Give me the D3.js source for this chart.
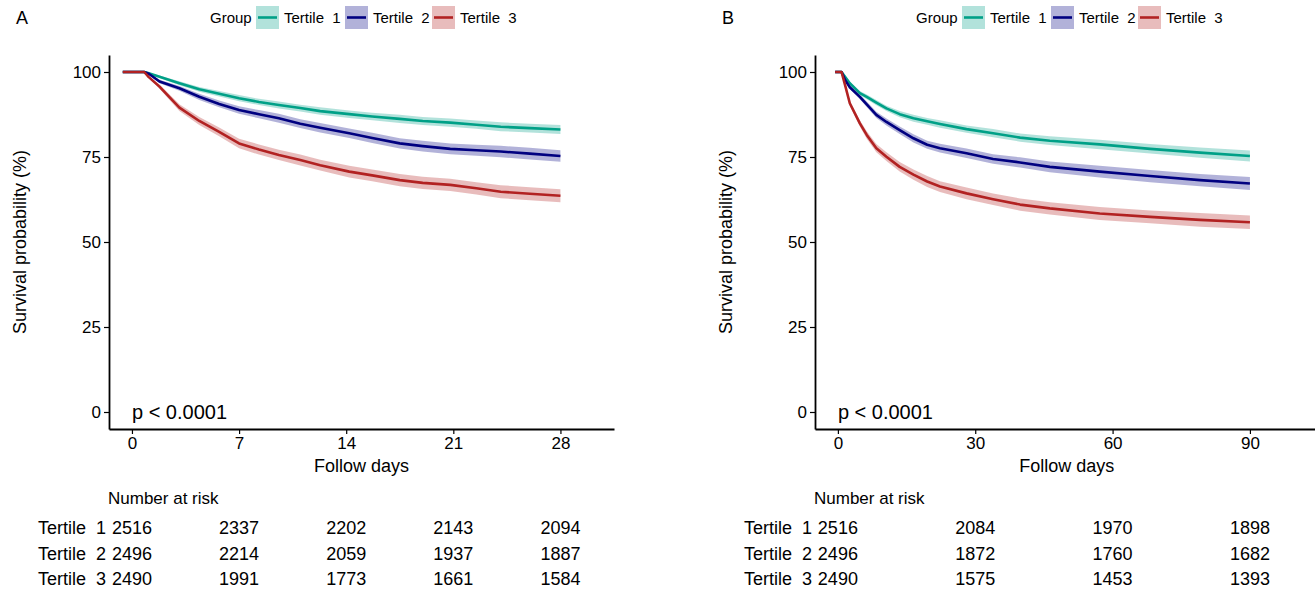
<!DOCTYPE html>
<html>
  <head>
    <meta charset="utf-8">
    <script src="https://d3js.org/d3.v7.min.js"></script>
    <style>
      body { margin: 0; background: #fff; }
      svg text { font-family: "Liberation Sans", Arial, sans-serif; fill: #000; white-space: pre; }
    </style>
  </head>
<body>
<script type="text/javascript">
  "use strict";

  // groups and colours (labels carry the double space of the original)
  var groups = ["Tertile  1", "Tertile  2", "Tertile  3"];
  var colors = ["#00A087", "#000080", "#B22222"];
  var yTicks = [0, 25, 50, 75, 100];

  // Panel A: 28 day survival (%)
  var timeA = [-0.6, 0.8, 1.1, 1.8, 3.1, 4.4, 5.7, 7, 8.3, 9.6, 11, 12.3, 14.2, 15.7, 17.5, 19, 20.8, 22.5, 24.1, 26, 28];
  var survA1 = [100, 100, 99.6, 98.6, 96.7, 94.9, 93.6, 92.3, 91.2, 90.3, 89.4, 88.5, 87.6, 86.9, 86.2, 85.6, 85.1, 84.5, 83.9, 83.5, 83.1];
  var survA2 = [100, 100, 99.5, 97.2, 95.2, 92.7, 90.6, 88.8, 87.6, 86.4, 84.8, 83.6, 82.0, 80.6, 79.0, 78.2, 77.4, 77.0, 76.6, 76.0, 75.3];
  var survA3 = [100, 100, 98.5, 95.7, 89.5, 85.6, 82.4, 79.0, 77.2, 75.6, 74.1, 72.6, 70.7, 69.6, 68.2, 67.4, 66.8, 65.8, 64.8, 64.2, 63.6];
  var ciA1 = [0, 0, 0.2, 0.4, 0.6, 0.7, 0.8, 0.9, 0.9, 1.0, 1.0, 1.1, 1.1, 1.1, 1.2, 1.2, 1.2, 1.2, 1.3, 1.3, 1.3];
  var ciA2 = [0, 0, 0.2, 0.5, 0.7, 0.9, 1.0, 1.1, 1.2, 1.3, 1.3, 1.4, 1.4, 1.5, 1.5, 1.6, 1.6, 1.6, 1.7, 1.7, 1.7];
  var ciA3 = [0, 0, 0.3, 0.6, 1.0, 1.2, 1.3, 1.4, 1.5, 1.5, 1.6, 1.6, 1.7, 1.7, 1.8, 1.8, 1.8, 1.8, 1.9, 1.9, 1.9];
  var xTicksA = [0, 7, 14, 21, 28];
  var riskA = [[2516, 2337, 2202, 2143, 2094],
               [2496, 2214, 2059, 1937, 1887],
               [2490, 1991, 1773, 1661, 1584]];

  // Panel B: 90 day survival (%)
  var timeB = [-0.6, 0.8, 1.6, 2.6, 4.8, 6.3, 8.4, 10.6, 13.5, 16.5, 19.5, 22.3, 28.1, 33.9, 39.8, 46.3, 57.2, 68.2, 79.1, 90];
  var survB1 = [100, 100, 98.5, 96.7, 93.8, 92.7, 91.0, 89.3, 87.6, 86.4, 85.5, 84.7, 83.2, 82.0, 80.7, 79.8, 78.7, 77.4, 76.3, 75.3];
  var survB2 = [100, 100, 97.6, 95.5, 92.7, 90.5, 87.4, 85.3, 82.9, 80.5, 78.6, 77.6, 76.1, 74.4, 73.4, 72.1, 70.7, 69.4, 68.2, 67.2];
  var survB3 = [100, 100, 96.0, 90.8, 84.9, 81.5, 77.6, 75.1, 72.1, 69.8, 67.8, 66.3, 64.3, 62.6, 61.0, 59.9, 58.4, 57.4, 56.5, 55.8];
  var ciB1 = [0, 0, 0.3, 0.4, 0.6, 0.7, 0.8, 0.8, 0.9, 1.0, 1.0, 1.1, 1.1, 1.2, 1.2, 1.3, 1.4, 1.4, 1.5, 1.6];
  var ciB2 = [0, 0, 0.3, 0.5, 0.7, 0.8, 0.9, 1.0, 1.1, 1.2, 1.2, 1.3, 1.4, 1.4, 1.5, 1.6, 1.7, 1.8, 1.8, 1.9];
  var ciB3 = [0, 0, 0.4, 0.7, 0.9, 1.1, 1.2, 1.3, 1.4, 1.5, 1.6, 1.6, 1.7, 1.7, 1.8, 1.8, 1.9, 1.9, 2.0, 2.0];
  var xTicksB = [0, 30, 60, 90];
  var riskB = [[2516, 2084, 1970, 1898],
               [2496, 1872, 1760, 1682],
               [2490, 1575, 1453, 1393]];

  var svg = d3.select("body").append("svg")
      .attr("width", 1315)
      .attr("height", 590);

  function drawPanel(p) {
    var g = svg.append("g").attr("transform", "translate(" + p.dx + ",0)");

    var x = d3.scaleLinear().domain(p.xDomain).range([109, p.xRight]);
    var y = d3.scaleLinear().domain([-5, 105]).range([429, 55]);

    // panel letter
    g.append("text").attr("x", 16).attr("y", 24)
      .style("font-size", "18px").text(p.letter);

    // legend
    var lg = g.append("g").attr("transform", "translate(210,17.5)");
    lg.append("text").attr("x", 0).attr("y", 5.5)
      .style("font-size", "15px").text("Group");
    var lx = [46, 135, 222];
    groups.forEach(function (name, i) {
      var k = lg.append("g").attr("transform", "translate(" + lx[i] + ",0)");
      k.append("rect").attr("x", 0).attr("y", -11.5).attr("width", 23).attr("height", 23)
        .attr("fill", colors[i]).attr("fill-opacity", 0.3);
      k.append("line").attr("x1", 2).attr("x2", 21).attr("y1", 0).attr("y2", 0)
        .attr("stroke", colors[i]).attr("stroke-width", 2.6);
      k.append("text").attr("x", 28).attr("y", 5.5)
        .style("font-size", "15px").text(name);
    });

    // ribbons and curves
    var area = d3.area()
      .x(function (d) { return x(d.t); })
      .y0(function (d) { return y(d.s - d.ci); })
      .y1(function (d) { return y(Math.min(100, d.s + d.ci)); });
    var line = d3.line()
      .x(function (d) { return x(d.t); })
      .y(function (d) { return y(d.s); });

    p.surv.forEach(function (s, i) {
      var pts = p.time.map(function (t, j) { return { t: t, s: s[j], ci: p.ci[i][j] }; });
      g.append("path").datum(pts).attr("d", area)
        .attr("fill", colors[i]).attr("fill-opacity", 0.3);
    });
    p.surv.forEach(function (s, i) {
      var pts = p.time.map(function (t, j) { return { t: t, s: s[j] }; });
      g.append("path").datum(pts).attr("d", line)
        .attr("fill", "none").attr("stroke", colors[i])
        .attr("stroke-width", 2.6).attr("stroke-linejoin", "round");
    });

    // axes
    var yAxis = g.append("g").attr("transform", "translate(109,0)")
      .call(d3.axisLeft(y).tickValues(yTicks).tickSize(5).tickSizeOuter(0).tickPadding(3));
    var xAxis = g.append("g").attr("transform", "translate(0,429)")
      .call(d3.axisBottom(x).tickValues(p.xTicks).tickSize(5).tickSizeOuter(0).tickPadding(3));
    [yAxis, xAxis].forEach(function (a) {
      a.select(".domain").attr("stroke", "#000").attr("stroke-width", 1.8);
      a.selectAll(".tick line").attr("stroke", "#000").attr("stroke-width", 1.2);
      a.selectAll(".tick text").style("font-size", "17px").attr("fill", "#000");
    });
    yAxis.selectAll(".tick text").attr("dy", "0.35em");

    // axis titles
    g.append("text")
      .attr("transform", "translate(26,242) rotate(-90)")
      .attr("text-anchor", "middle")
      .style("font-size", "18px")
      .text("Survival probability (%)");
    g.append("text")
      .attr("x", (109 + p.xRight) / 2).attr("y", 472)
      .attr("text-anchor", "middle")
      .style("font-size", "18px")
      .text("Follow days");

    // p value
    g.append("text").attr("x", x(0)).attr("y", 419)
      .style("font-size", "20px").text("p < 0.0001");

    // number at risk table
    g.append("text").attr("x", 108).attr("y", 504)
      .style("font-size", "17px").text("Number at risk");
    var rowY = [534, 560, 585];
    groups.forEach(function (name, i) {
      g.append("text").attr("x", 106).attr("y", rowY[i])
        .attr("text-anchor", "end").style("font-size", "18px").text(name);
      p.risk[i].forEach(function (n, j) {
        g.append("text").attr("x", x(p.xTicks[j])).attr("y", rowY[i])
          .attr("text-anchor", "middle").style("font-size", "18px").text(n);
      });
    });
  }

  drawPanel({
    letter: "A", dx: 0, xDomain: [-1.5, 31.5], xRight: 614,
    time: timeA, surv: [survA1, survA2, survA3], ci: [ciA1, ciA2, ciA3],
    xTicks: xTicksA, risk: riskA
  });
  drawPanel({
    letter: "B", dx: 706, xDomain: [-5, 105], xRight: 612.6,
    time: timeB, surv: [survB1, survB2, survB3], ci: [ciB1, ciB2, ciB3],
    xTicks: xTicksB, risk: riskB
  });
</script>
</body>
</html>
